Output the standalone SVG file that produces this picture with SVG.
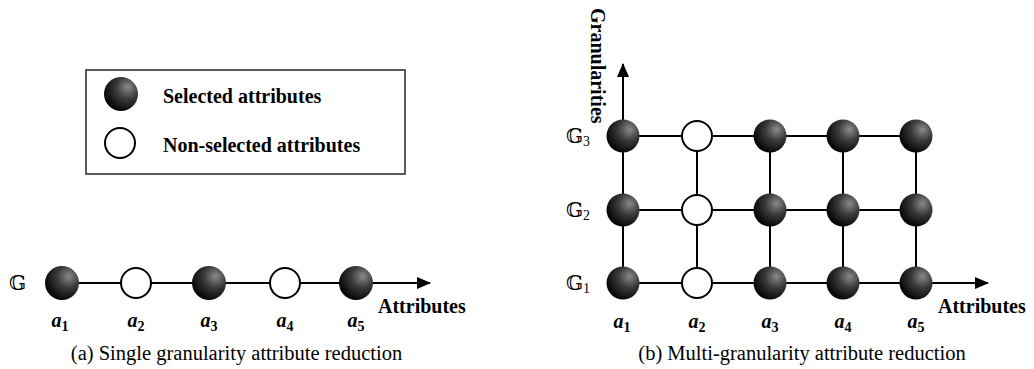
<svg xmlns="http://www.w3.org/2000/svg" width="1034" height="369" viewBox="0 0 1034 369">
<style>
.ln{stroke:#000;stroke-width:2;fill:none}
.b{font-family:"Liberation Serif","Times New Roman",serif;font-weight:bold;font-size:20px;fill:#000}
.ai{font-family:"Liberation Serif","Times New Roman",serif;font-weight:bold;font-style:italic;font-size:20px;fill:#000}
.sub{font-size:14px;font-style:normal}
.cap{font-family:"Liberation Serif","Times New Roman",serif;font-size:20.5px;fill:#000}
.gg{font-family:"DejaVu Serif","DejaVu Sans",serif;font-size:20px;fill:#000}
.gs{font-family:"Liberation Serif",serif;font-size:14px}
.sel{fill:url(#sg)}
.non{fill:#fff;stroke:#000;stroke-width:2}
</style>
<defs>
<radialGradient id="sg" cx="0.68" cy="0.32" r="0.75" fx="0.7" fy="0.3">
<stop offset="0" stop-color="#8a8a8a"/>
<stop offset="0.45" stop-color="#3a3a3a"/>
<stop offset="1" stop-color="#000"/>
</radialGradient>
<marker id="ah" markerWidth="14" markerHeight="12" refX="13" refY="6" orient="auto" markerUnits="userSpaceOnUse">
<path d="M0,0 L14,6 L0,12 Z" fill="#000"/>
</marker>
</defs>
<rect width="1034" height="369" fill="#fff"/>

<g id="legend">
<rect x="86" y="70" width="319" height="104" fill="#fff" stroke="#333" stroke-width="1.6"/>
<circle class="sel" cx="121" cy="94" r="17"/>
<text class="b" x="163" y="103">Selected attributes</text>
<circle class="non" cx="120" cy="143" r="15"/>
<text class="b" x="163" y="152">Non-selected attributes</text>
</g>

<g id="connectors">
<line class="ln" x1="62" y1="283" x2="430" y2="283" marker-end="url(#ah)"/>
<line class="ln" x1="623" y1="136" x2="916" y2="136"/>
<line class="ln" x1="623" y1="210" x2="916" y2="210"/>
<line class="ln" x1="623" y1="283" x2="988" y2="283" marker-end="url(#ah)"/>
<line class="ln" x1="623" y1="283" x2="623" y2="64" marker-end="url(#ah)"/>
<line class="ln" x1="697" y1="136" x2="697" y2="283"/>
<line class="ln" x1="770" y1="136" x2="770" y2="283"/>
<line class="ln" x1="843" y1="136" x2="843" y2="283"/>
<line class="ln" x1="916" y1="136" x2="916" y2="283"/>
</g>

<g id="single">
<text class="gg" x="9" y="290">𝔾</text>
<g id="s-a1"><circle class="sel" cx="62" cy="283" r="17"/></g>
<g id="s-a2"><circle class="non" cx="136" cy="283" r="15"/></g>
<g id="s-a3"><circle class="sel" cx="209" cy="283" r="17"/></g>
<g id="s-a4"><circle class="non" cx="285" cy="283" r="15"/></g>
<g id="s-a5"><circle class="sel" cx="356" cy="283" r="17"/></g>
<text class="b" x="378" y="313">Attributes</text>
<text class="ai" x="60" y="327" text-anchor="middle">a<tspan class="sub" dy="4">1</tspan></text>
<text class="ai" x="136" y="327" text-anchor="middle">a<tspan class="sub" dy="4">2</tspan></text>
<text class="ai" x="209" y="327" text-anchor="middle">a<tspan class="sub" dy="4">3</tspan></text>
<text class="ai" x="285" y="327" text-anchor="middle">a<tspan class="sub" dy="4">4</tspan></text>
<text class="ai" x="356" y="327" text-anchor="middle">a<tspan class="sub" dy="4">5</tspan></text>
<text class="cap" x="236.5" y="360" text-anchor="middle">(a) Single granularity attribute reduction</text>
</g>

<g id="multi">
<text class="b" transform="translate(591,8) rotate(90)">Granularities</text>
<text class="gg" x="566" y="143">𝔾<tspan class="gs" dy="3">3</tspan></text>
<text class="gg" x="566" y="217">𝔾<tspan class="gs" dy="3">2</tspan></text>
<text class="gg" x="566" y="290">𝔾<tspan class="gs" dy="3">1</tspan></text>
<g id="g3-a1"><circle class="sel" cx="623" cy="136" r="16.5"/></g>
<g id="g3-a2"><circle class="non" cx="697" cy="136" r="15"/></g>
<g id="g3-a3"><circle class="sel" cx="770" cy="136" r="16.5"/></g>
<g id="g3-a4"><circle class="sel" cx="843" cy="136" r="16.5"/></g>
<g id="g3-a5"><circle class="sel" cx="916" cy="136" r="16.5"/></g>
<g id="g2-a1"><circle class="sel" cx="623" cy="210" r="16.5"/></g>
<g id="g2-a2"><circle class="non" cx="697" cy="210" r="15"/></g>
<g id="g2-a3"><circle class="sel" cx="770" cy="210" r="16.5"/></g>
<g id="g2-a4"><circle class="sel" cx="843" cy="210" r="16.5"/></g>
<g id="g2-a5"><circle class="sel" cx="916" cy="210" r="16.5"/></g>
<g id="g1-a1"><circle class="sel" cx="623" cy="283" r="16.5"/></g>
<g id="g1-a2"><circle class="non" cx="697" cy="283" r="15"/></g>
<g id="g1-a3"><circle class="sel" cx="770" cy="283" r="16.5"/></g>
<g id="g1-a4"><circle class="sel" cx="843" cy="283" r="16.5"/></g>
<g id="g1-a5"><circle class="sel" cx="916" cy="283" r="16.5"/></g>
<text class="b" x="938" y="313">Attributes</text>
<text class="ai" x="622" y="328" text-anchor="middle">a<tspan class="sub" dy="4">1</tspan></text>
<text class="ai" x="697" y="328" text-anchor="middle">a<tspan class="sub" dy="4">2</tspan></text>
<text class="ai" x="770" y="328" text-anchor="middle">a<tspan class="sub" dy="4">3</tspan></text>
<text class="ai" x="843" y="328" text-anchor="middle">a<tspan class="sub" dy="4">4</tspan></text>
<text class="ai" x="916" y="328" text-anchor="middle">a<tspan class="sub" dy="4">5</tspan></text>
<text class="cap" x="802" y="360" text-anchor="middle">(b) Multi-granularity attribute reduction</text>
</g>
</svg>
